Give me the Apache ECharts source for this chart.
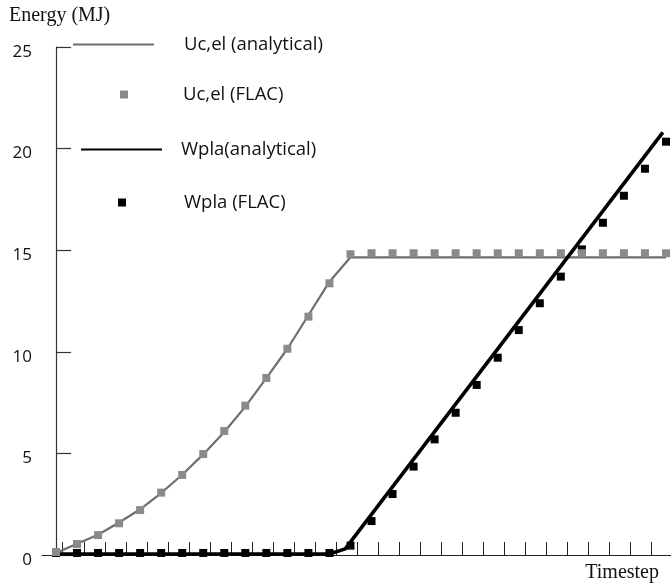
<!DOCTYPE html>
<html>
<head>
<meta charset="utf-8">
<script src="https://cdn.jsdelivr.net/npm/echarts@6/dist/echarts.min.js"></script>
<style>
  html, body { margin: 0; padding: 0; background: #fff; }
  #chart { width: 671px; height: 584px; }
</style>
</head>
<body>
<div id="chart"></div>
<script>
// timestep index of every FLAC sample
const steps = [0, 1, 2, 3, 4, 5, 6, 7, 8, 9, 10, 11, 12, 13, 14, 15, 16, 17, 18, 19, 20, 21, 22, 23, 24, 25, 26, 27, 28, 29]
// Uc,el from FLAC (MJ)
const ucelFlac = [0.15, 0.54, 0.98, 1.56, 2.21, 3.07, 3.94, 4.97, 6.10, 7.35, 8.71, 10.15, 11.73, 13.37, 14.8,
  14.85, 14.85, 14.85, 14.85, 14.85, 14.85, 14.85, 14.85, 14.85, 14.85, 14.85, 14.85, 14.85, 14.85, 14.85]
// Wpla from FLAC (MJ)
const wplaFlac = [0.1, 0.1, 0.1, 0.1, 0.1, 0.1, 0.1, 0.1, 0.1, 0.1, 0.1, 0.1, 0.1, 0.1, 0.46,
  1.67, 3.0, 4.35, 5.69, 7.0, 8.37, 9.71, 11.07, 12.39, 13.7, 15.04, 16.35, 17.68, 19.01, 20.34]
// analytical curves: [timestep, MJ]
const ucelAnalytical = [[0, 0.1], [1, 0.55], [2, 1.0], [3, 1.6], [4, 2.25], [5, 3.05], [6, 3.95], [7, 4.95],
  [8, 6.05], [9, 7.3], [10, 8.7], [11, 10.15], [12, 11.8], [13, 13.45], [14, 14.65], [29, 14.65]]
const wplaAnalytical = [[0, 0.05], [13, 0.05], [13.75, 0.3], [28.85, 20.8]]
// x tick marks (unlabelled)
const xTicks = [0.32, 1.32, 2.32, 3.32, 4.32, 5.32, 6.32, 7.32, 8.32, 9.32, 10.32, 11.32, 12.32, 13.32, 14.32,
  15.32, 16.32, 17.32, 18.32, 19.32, 20.32, 21.32, 22.32, 23.32, 24.32, 25.32, 26.32, 27.32, 28.32]
const yTicks = [0, 5, 10, 15, 20, 25]

const names = ['Uc,el (analytical)', 'Uc,el (FLAC)', 'Wpla(analytical)', 'Wpla (FLAC)']
const sansFont = 'Open Sans'
const serifFont = 'Liberation Serif'

const legendText = { fontFamily: sansFont, fontSize: 18.5, color: '#111' }
const makeLegend = (item, left, top, w, h, pad, extra) => Object.assign({
  orient: 'vertical',
  padding: 0,
  selectedMode: false,
  data: [item],
  left: left,
  top: top,
  itemWidth: w,
  itemHeight: h,
  textStyle: Object.assign({}, legendText, { padding: pad })
}, extra || {})

const chart = echarts.init(document.getElementById('chart'))
const option = {
  animation: false,
  backgroundColor: '#fff',
  title: {
    text: 'Energy (MJ)',
    left: 9,
    top: 6,
    padding: 0,
    textStyle: { fontFamily: serifFont, fontSize: 20, fontWeight: 'normal', color: '#111' }
  },
  grid: { left: 42, right: 0, top: 47, bottom: 29, outerBoundsMode: 'none', containLabel: false },
  legend: [
    makeLegend(names[0], 72, 35, 81, 20, [0, 0, 0, 25], { itemStyle: { opacity: 0 } }),
    makeLegend({ name: names[1], icon: 'rect' }, 120, 85, 8, 8, [0, 0, 0, 50]),
    makeLegend(names[2], 80, 140, 81, 20, [0, 0, 0, 14], { itemStyle: { opacity: 0 } }),
    makeLegend({ name: names[3], icon: 'rect' }, 118, 193, 8, 8, [0, 0, 0, 53])
  ],
  xAxis: {
    type: 'value',
    min: -0.6656,
    max: 29.238,
    name: 'Timestep',
    nameLocation: 'end',
    nameGap: -12,
    nameTextStyle: {
      fontFamily: serifFont, fontSize: 20, color: '#111',
      align: 'right', verticalAlign: 'top', lineHeight: 36
    },
    axisLine: { show: true, onZero: false, lineStyle: { color: '#222', width: 1.2 } },
    axisTick: { show: true, inside: true, length: 13, customValues: xTicks, lineStyle: { color: '#222', width: 1 } },
    axisLabel: { show: false },
    splitLine: { show: false }
  },
  yAxis: {
    type: 'value',
    min: 0,
    max: 25,
    interval: 5,
    axisLine: { show: true, lineStyle: { color: '#333', width: 1.2 } },
    axisTick: { show: true, inside: true, length: 15, customValues: yTicks, lineStyle: { color: '#333', width: 1.2 } },
    axisLabel: {
      margin: 10, fontFamily: sansFont, fontSize: 17, color: '#111',
      customValues: yTicks, verticalAlign: 'top', lineHeight: 10
    },
    splitLine: { show: false }
  },
  series: [
    {
      name: names[0],
      type: 'line',
      z: 2,
      symbol: 'none',
      data: ucelAnalytical,
      lineStyle: { color: '#6e6e6e', width: 2.2 },
      itemStyle: { color: '#6e6e6e' }
    },
    {
      name: names[2],
      type: 'line',
      z: 3,
      symbol: 'none',
      data: wplaAnalytical,
      lineStyle: { color: '#000', width: 3.6 },
      itemStyle: { color: '#000' }
    },
    {
      name: names[3],
      type: 'scatter',
      z: 4,
      symbol: 'rect',
      symbolSize: 8,
      data: steps.map((s, i) => [s, wplaFlac[i]]),
      itemStyle: { color: '#000', opacity: 1 }
    },
    {
      name: names[1],
      type: 'scatter',
      z: 5,
      symbol: 'rect',
      symbolSize: 8,
      data: steps.map((s, i) => [s, ucelFlac[i]]),
      itemStyle: { color: '#8a8a8a', opacity: 1 }
    }
  ]
}
chart.setOption(option)
</script>
</body>
</html>
